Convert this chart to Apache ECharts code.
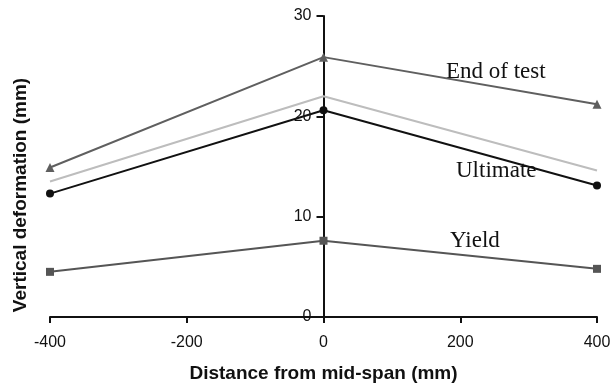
<!DOCTYPE html>
<html>
<head>
<meta charset="utf-8">
<script src="https://cdn.jsdelivr.net/npm/echarts@6/dist/echarts.min.js"></script>
<style>
html, body { margin: 0; padding: 0; background: #fff; }
#chartDiv { width: 611px; height: 385px; }
</style>
</head>
<body>
<div id="chartDiv"></div>
<script>
// 数据
var distance = [-400, 0, 400];
var endOfTest = [14.9, 25.9, 21.2];
var lightLine = [13.5, 22.0, 14.6];
var ultimate = [12.3, 20.6, 13.1];
var yieldVals = [4.5, 7.6, 4.8];

function pairs(vals) {
    return distance.map(function (x, i) { return [x, vals[i]]; });
}

var myChart = echarts.init(document.getElementById('chartDiv'));

// 网格
var gridLeft = 50, gridRight = 14;
var plotWidth = 611 - gridLeft - gridRight;

var axisText = { color: '#111', fontFamily: 'Liberation Sans, Arial', fontSize: 16 };
var serifFont = '23px "Liberation Serif", "Times New Roman"';

var option = {
    backgroundColor: '#fff',
    animation: false,
    grid: { left: gridLeft, right: gridRight, top: 16, bottom: 68, outerBoundsMode: 'none' },
    xAxis: {
        type: 'value',
        min: -400, max: 400, interval: 200,
        name: 'Distance from mid-span (mm)',
        nameLocation: 'middle',
        nameGap: 47,
        nameTextStyle: { color: '#111', fontFamily: 'Liberation Sans, Arial', fontSize: 19, fontWeight: 'bold' },
        axisLine: { onZero: false, lineStyle: { color: '#111', width: 2 } },
        axisTick: { show: true, length: 6, lineStyle: { color: '#111', width: 2 } },
        axisLabel: Object.assign({ margin: 18 }, axisText),
        splitLine: { show: false }
    },
    yAxis: {
        type: 'value',
        min: 0, max: 30, interval: 10,
        position: 'left',
        offset: -plotWidth / 2, // 竖轴放在 x=0 处
        axisLine: { onZero: false, lineStyle: { color: '#111', width: 2 } },
        axisTick: { show: true, length: 7, lineStyle: { color: '#111', width: 2 } },
        axisLabel: Object.assign({ margin: 12 }, axisText),
        splitLine: { show: false }
    },
    graphic: [
        { type: 'text', x: 21, y: 195, rotation: Math.PI / 2,
          style: { text: 'Vertical deformation (mm)', fill: '#111', font: 'bold 19px "Liberation Sans", Arial',
                   align: 'center', verticalAlign: 'middle' } },
        { type: 'text', left: 446, top: 60, style: { text: 'End of test', fill: '#111', font: serifFont } },
        { type: 'text', left: 456, top: 159, style: { text: 'Ultimate', fill: '#111', font: serifFont } },
        { type: 'text', left: 450, top: 229, style: { text: 'Yield', fill: '#111', font: serifFont } }
    ],
    series: [
        { name: 'End of test', type: 'line', data: pairs(endOfTest), symbol: 'triangle', symbolSize: 9,
          lineStyle: { color: '#5f5f5f', width: 2 }, itemStyle: { color: '#5f5f5f' }, z: 3 },
        { name: 'Light', type: 'line', data: pairs(lightLine), showSymbol: false, symbol: 'none',
          lineStyle: { color: '#bdbdbd', width: 2 }, z: 2 },
        { name: 'Ultimate', type: 'line', data: pairs(ultimate), symbol: 'circle', symbolSize: 8,
          lineStyle: { color: '#111', width: 2 }, itemStyle: { color: '#111' }, z: 4 },
        { name: 'Yield', type: 'line', data: pairs(yieldVals), symbol: 'rect', symbolSize: 8,
          lineStyle: { color: '#555', width: 2 }, itemStyle: { color: '#555' }, z: 3 }
    ]
};
myChart.setOption(option);
</script>
</body>
</html>
